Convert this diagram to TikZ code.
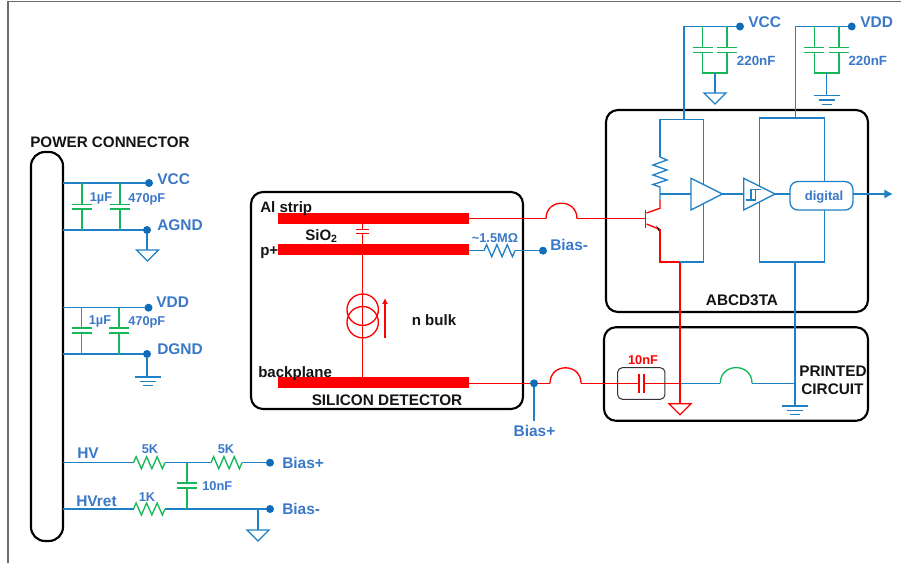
\documentclass[tikz,border=0pt]{standalone}
\usepackage{fontspec}
\setmainfont{Liberation Sans}
\usetikzlibrary{arrows.meta}
\definecolor{wb}{HTML}{2080C4}
\definecolor{lb}{HTML}{3A78C8}
\definecolor{db}{HTML}{0E6CB8}
\definecolor{gr}{HTML}{14B858}
\definecolor{rd}{HTML}{FF0000}
\tikzset{
 bw/.style={draw=wb,line width=1pt},
 gw/.style={draw=gr,line width=1pt},
 rw/.style={draw=rd,line width=1pt},
 holder/.style={draw=black,line width=1.6pt,rounded corners=9pt,inner sep=0pt,outer sep=0pt},
 strip/.style={fill=rd,inner sep=0pt,outer sep=0pt,minimum width=143.25pt,minimum height=8pt},
 dot/.style={circle,fill=db,inner sep=0pt,minimum size=6pt,outer sep=0pt},
 lab/.style={font=\bfseries\fontsize{11.6}{13}\selectfont,text=lb,inner sep=0pt,anchor=west},
 slab/.style={font=\bfseries\fontsize{9.6}{11}\selectfont,text=lb,inner sep=0pt},
 blk/.style={font=\bfseries\fontsize{11.5}{13}\selectfont,text=black!92,inner sep=0pt},
 blks/.style={font=\bfseries\fontsize{11.3}{12}\selectfont,text=black!92,inner sep=0pt,anchor=west},
}
% horizontal resistor: x, y, length, style
\newcommand\ResH[4]{\draw[#4,line join=miter] (#1,#2) \foreach \k/\d in {1/-1,3/1,5/-1,7/1,9/-1,11/1}{ -- ++(0,0) -- ({#1+#3*\k/12},{#2+6*\d})} -- (#1+#3,#2);}
% horizontal cap pair: x, y1, y2, halfwidth, style
\newcommand\PlatesH[5]{\draw[#5] (#1-#4,#2) -- (#1+#4,#2) (#1-#4,#3) -- (#1+#4,#3);}
% triangle ground: x, y, colour
\newcommand\GndTri[3]{\draw[#3,line width=1pt,line join=miter] (#1-11,#2) -- (#1+11,#2) -- (#1,#2+11) -- cycle;}
% bars ground
\newcommand\GndBars[2]{\draw[bw] (#1-13,#2) -- (#1+13,#2) (#1-8,#2+4.3) -- (#1+8,#2+4.3) (#1-5,#2+8.6) -- (#1+5,#2+8.6);}
% jump
\newcommand\JumpArc[5]{\draw[#5] (#1,#3) .. controls (#1,#3-#4*1.3333) and (#2,#3-#4*1.3333) .. (#2,#3);}
\begin{document}
\begin{tikzpicture}[x=0.75pt,y=-0.75pt]
\useasboundingbox (0,0) rectangle (901,563);
% frame
\coordinate (f1) at (8,563); \coordinate (f2) at (8,1.5); \coordinate (f3) at (901,1.5);
\draw[gray!85!black,line width=1pt] (f1) -- (f2) -- (f3);

% ---- boxes
\node[holder,rounded corners=10.5pt,minimum width=24pt,minimum height=291.75pt] (pc) at (47,346.5) {};
\node[holder,minimum width=204pt,minimum height=162.75pt] (sd) at (387,300.5) {};
\node[holder,minimum width=196.5pt,minimum height=151.5pt] (abcd) at (737,211) {};
\node[holder,minimum width=198pt,minimum height=70.2pt] (pcb) at (736,374) {};

% ---- power connector
\node[blk,font=\bfseries\fontsize{11.4}{13}\selectfont] (tpc) at (110,142) {POWER CONNECTOR};
\node[dot] (vcc1) at (149,183) {};
\node[dot] (agnd) at (147,230) {};
\node[dot] (vdd1) at (148.5,307.7) {};
\node[dot] (dgnd) at (147,354) {};
\draw[bw] (pc.east |- vcc1) -- (vcc1);
\draw[bw] (pc.east |- agnd) -- (agnd);
\draw[bw] (pc.east |- vdd1) -- (vdd1);
\draw[bw] (pc.east |- dgnd) -- (dgnd);
\foreach \x in {82,120}{
 \draw[gw] (\x,183) -- (\x,204.3) (\x,209) -- (\x,230);
 \PlatesH{\x}{204.3}{209}{10}{gw}
}
\foreach \x in {81.5,119}{
 \draw[gw] (\x,307.7) -- (\x,328) (\x,333) -- (\x,354);
 \PlatesH{\x}{328}{333}{10}{gw}
}
\draw[bw] (agnd) -- (147,250);
\GndTri{147.5}{250}{wb}
\draw[bw] (dgnd) -- (147,377);
\GndBars{147.5}{377}
\node[lab] (l1) at (157,179) {VCC};
\node[lab] (l2) at (157,225) {AGND};
\node[lab] (l3) at (156,302.5) {VDD};
\node[lab] (l4) at (157,349) {DGND};
\node[slab,anchor=west] (l5) at (89.5,198.5) {1µF};
\node[slab,anchor=west] (l6) at (128,199.5) {470pF};
\node[slab,anchor=west] (l7) at (88.5,321.5) {1µF};
\node[slab,anchor=west] (l8) at (128,322.5) {470pF};

% ---- HV
\node[dot] (bp1) at (270,462.7) {};
\node[dot] (bm1) at (270,509) {};
\draw[bw] (pc.east |- bp1) -- (133.5,462.7) (165,462.7) -- (211,462.7) (242,462.7) -- (bp1);
\draw[bw] (pc.east |- bm1) -- (133.5,509) (165,509) -- (bm1);
\ResH{133.5}{462.7}{31.5}{gw}
\ResH{211}{462.7}{31}{gw}
\ResH{133.5}{509}{31.5}{gw}
\draw[gw] (187,462.7) -- (187,483) (187,488) -- (187,509);
\PlatesH{187}{483}{488}{10}{gw}
\draw[bw] (258,509) -- (258,530);
\GndTri{258}{530}{wb}
\node[lab] (l9) at (77,453) {HV};
\node[lab] (l10) at (76,501) {HVret};
\node[slab] (l11) at (150,449) {5K};
\node[slab] (l12) at (226,449) {5K};
\node[slab] (l13) at (147,497) {1K};
\node[slab,anchor=west] (l14) at (202,486) {10nF};
\node[lab] (l15) at (282,462.5) {Bias+};
\node[lab] (l16) at (282,508.5) {Bias-};

% ---- detector
\node[strip] (al) at (373.5,218.5) {};
\node[strip] (pp) at (373.5,249.3) {};
\node[strip] (bpl) at (373.5,382.6) {};
\draw[rw] (362.7,224) -- (362.7,229.7) (362.7,233.3) -- (362.7,244) (362.7,254.5) -- (362.7,377.3);
\PlatesH{362.7}{229.7}{233.3}{6.5}{rw}
\draw[rw] (362.7,309.7) circle (15.7) (362.7,322.2) circle (15.7);
\coordinate (ia) at (385,337.7); \coordinate (ib) at (385,298);
\draw[rw,-{Latex[length=4.5pt,width=4.5pt]}] (ia) -- (ib);
\node[blks] (t1) at (260,208.5) {Al strip};
\node[blks] (t2) at (305,236) {SiO\textsubscript{2}};
\node[blks] (t3) at (260,253) {p+};
\node[blks,anchor=center] (t4) at (434,320.5) {n bulk};
\node[blks] (t5) at (258,373.5) {backplane};
\node[blk] (t6) at (387,400) {SILICON DETECTOR};

\node[dot] (bm2) at (543,250.7) {};
\draw[bw] (pp.east |- bm2) -- (484,250.7) (515,250.7) -- (bm2);
\ResH{484}{250.7}{31}{bw}
\node[slab] (l17) at (495,238) {\textasciitilde1.5MΩ};
\node[lab] (l18) at (550,245) {Bias-};

\draw[rw] (al.east |- 0,218.7) -- (546,218.7) (577,218.7) -- (645.7,218.7);
\JumpArc{546}{577}{218.7}{15.5}{rw}

\node[dot] (bp2) at (534,383.3) {};
\coordinate (bpe) at (534,420.7);
\draw[bw] (bp2) -- (bpe);
\node[lab,anchor=center] (l19) at (534.5,431) {Bias+};
\draw[rw] (bpl.east |- bp2) -- (bp2) -- (550,383.3) (581,383.3) -- (639,383.3) (644,383.3) -- (680,383.3);
\JumpArc{550}{581}{383.3}{15.5}{rw}

% ---- printed circuit
\node[draw=black!80,line width=0.75pt,rounded corners=3.5pt,inner sep=0pt,minimum width=35.5pt,minimum height=23.7pt] (capbox) at (641.3,383.5) {};
\draw[rw] (639,374) -- (639,393) (644,374) -- (644,393);
\node[font=\bfseries\fontsize{9.6}{11}\selectfont,text=rd,inner sep=0pt] (t7) at (643,360) {10nF};
\draw[bw] (680,383.3) -- (720.3,383.3) (752,383.3) -- (795,383.3);
\JumpArc{720.3}{752}{383.3}{15.7}{gw}
\draw[bw] (795,262) -- (795,406);
\GndBars{795}{406}
\draw[rw] (680,262) -- (680,403.7);
\GndTri{680}{403.7}{rd}
\node[blk] (t8) at (833,371) {PRINTED};
\node[blk] (t9) at (832.5,389) {CIRCUIT};
\node[blk] (t10) at (742,300.5) {ABCD3TA};

% ---- top decoupling
\node[dot] (vcc2) at (740,26.5) {};
\node[dot] (vdd2) at (851.7,26.5) {};
\draw[bw] (684,119.5) -- (684,26.5) -- (vcc2);
\draw[bw] (795.7,118) -- (795.7,26.5) -- (vdd2);
\draw[gw] (702.7,26.5) -- (702.7,47.7) (702.7,52.3) -- (702.7,73) -- (727,73) -- (727,52.3) (727,47.7) -- (727,26.5);
\PlatesH{702.7}{47.7}{52.3}{10}{gw}
\PlatesH{727}{47.7}{52.3}{10}{gw}
\draw[bw] (715,73) -- (715,93);
\GndTri{715}{93}{wb}
\draw[gw] (814.3,26.5) -- (814.3,47.7) (814.3,52.3) -- (814.3,73) -- (839,73) -- (839,52.3) (839,47.7) -- (839,26.5);
\PlatesH{814.3}{47.7}{52.3}{10}{gw}
\PlatesH{839}{47.7}{52.3}{10}{gw}
\draw[bw] (826.7,73) -- (826.7,95.7);
\GndBars{826.7}{95.7}
\node[lab] (l20) at (748,22) {VCC};
\node[lab] (l21) at (860,22) {VDD};
\node[slab,anchor=west,font=\bfseries\fontsize{10}{11}\selectfont] (l22) at (736.7,61) {220nF};
\node[slab,anchor=west,font=\bfseries\fontsize{10}{11}\selectfont] (l23) at (848.3,61) {220nF};

% ---- chip inside
\draw[bw] (660,157) -- (660,119.5) -- (703.7,119.5) -- (703.7,184);
\draw[bw] (703.7,204.5) -- (703.7,262) -- (680,262);
\draw[bw] (759.7,186) -- (759.7,118) -- (824.7,118) -- (824.7,181.7);
\draw[bw] (759.7,202) -- (759.7,262) -- (824.7,262) -- (824.7,210);
% vertical resistor
\draw[bw] (660,157) -- (667,160) -- (653,165) -- (667,170) -- (653,175) -- (667,180) -- (653,184.5) -- (660,187) -- (660,200);
\draw[bw] (660,194) -- (691,194);
\draw[bw,line join=miter] (691,178.3) -- (722.3,194) -- (691,210) -- cycle;
\draw[bw] (722.3,194) -- (743.7,194);
\draw[bw,line join=miter] (743.7,178.3) -- (775,194) -- (743.7,210) -- cycle;
\draw[bw] (746,200) -- (755.7,200) -- (755.7,189.3) (751,200) -- (751,189.3) -- (761,189.3);
\node[draw=wb,line width=1pt,rounded corners=6pt,inner sep=0pt,outer sep=0pt,minimum width=47.25pt,minimum height=21.4pt] (dig) at (821.5,195.8) {};
\node[slab,font=\bfseries\fontsize{9.8}{11}\selectfont] (t11) at (824,197.5) {digital};
\draw[bw] (775,194) -- (dig.west |- 0,194);
\coordinate (outp) at (893,194);
\draw[bw,-{Latex[length=6.5pt,width=7pt]}] (dig.east |- outp) -- (outp);
% transistor
\draw[draw=rd,line width=1pt] (645.7,210) -- (645.7,228);
\draw[rw] (646.5,213) -- (660,208.3) -- (660,200);
\draw[rw] (646.5,224) -- (660,229.5);
\fill[black!80!red] (660,229.5) -- (656,225.3) -- (658.5,231) -- cycle;
\draw[draw=rd,line width=1.2pt] (660,229.5) -- (660,262) -- (680,262);
\end{tikzpicture}
\end{document}
